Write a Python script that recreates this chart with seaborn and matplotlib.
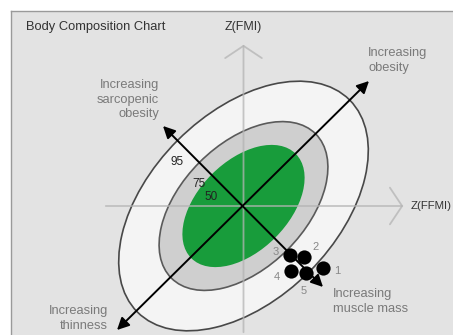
import numpy as np
import pandas as pd
import matplotlib
matplotlib.use("Agg")
import matplotlib.pyplot as plt
from matplotlib.patches import Ellipse
import seaborn as sns

# Reference ellipses (percentiles of the Z(FFMI)/Z(FMI) distribution), in Z units
percentiles = [95, 75, 50]
semi_major = [3.0, 2.04, 1.46]
semi_minor = [1.86, 1.24, 0.88]
ellipse_fill = ["#f4f4f4", "#cfcfcf", "#189c3b"]
ellipse_edge = ["#484848", "#5a5a5a", "#189c3b"]

# Five repeated measurements of one subject
point_ids = ["1", "2", "3", "4", "5"]
z_ffmi = [1.59, 1.21, 0.93, 0.95, 1.25]
z_fmi = [-1.24, -1.02, -0.98, -1.30, -1.34]
label_offsets = [(10, -2), (8, 7), (-10, 2), (-10, -4), (-2, -13)]

sns.set_theme(style="white")
plt.rcParams["font.family"] = ["Liberation Sans", "DejaVu Sans"]

fig = plt.figure(figsize=(4.53, 3.35), dpi=100)
fig.patch.set_facecolor("white")
ax = fig.add_axes([11 / 453, 0, 442 / 453, 324 / 335])
ax.set_facecolor("#e3e3e3")
ax.set_xlim(-4.65, 4.19)
ax.set_ylim(-2.58, 3.90)
ax.set_aspect("equal")
ax.set_xticks([])
ax.set_yticks([])
for side in ["right", "bottom"]:
    ax.spines[side].set_visible(False)
for side in ["top", "left"]:
    ax.spines[side].set_color("#9a9a9a")
    ax.spines[side].set_linewidth(1.0)

# Percentile ellipses, tilted 45 degrees
for p, a, b, fc, ec in zip(percentiles, semi_major, semi_minor, ellipse_fill, ellipse_edge):
    ax.add_patch(Ellipse((0, 0), 2 * a, 2 * b, angle=45, facecolor=fc,
                         edgecolor=ec, lw=1.2, zorder=1))
    d = b - 0.3
    lx, ly = -d / np.sqrt(2) - 0.23, d / np.sqrt(2) - 0.23
    ax.text(lx, ly, str(p), fontsize=8.5, color="#222222", ha="center",
            va="center", zorder=6)

# Z axes with open arrowheads
axis_color = "#b4b4b4"
ax.annotate("", xy=(0, 3.28), xytext=(0, -2.58),
            arrowprops=dict(arrowstyle="->,head_length=0.4,head_width=0.6",
                            mutation_scale=22, color=axis_color, lw=1.3, alpha=0.75),
            zorder=2)
ax.annotate("", xy=(3.25, 0), xytext=(-2.81, 0),
            arrowprops=dict(arrowstyle="->,head_length=0.4,head_width=0.6",
                            mutation_scale=22, color=axis_color, lw=1.3, alpha=0.75),
            zorder=2)
ax.text(0, 3.58, "Z(FMI)", fontsize=9, color="#333333", ha="center", va="center")
ax.text(3.35, 0, "Z(FFMI)", fontsize=8.2, color="#333333", ha="left", va="center")
ax.text(-4.35, 3.58, "Body Composition Chart", fontsize=9.3, color="#333333",
        ha="left", va="center")

# Diagonal trend arrows
ax.annotate("", xy=(2.51, 2.50), xytext=(-2.53, -2.48),
            arrowprops=dict(arrowstyle="<|-|>", mutation_scale=18, color="black",
                            lw=1.4, shrinkA=0, shrinkB=0), zorder=3)
ax.annotate("", xy=(-1.61, 1.60), xytext=(1.59, -1.62),
            arrowprops=dict(arrowstyle="<|-|>", mutation_scale=18, color="black",
                            lw=1.4, shrinkA=0, shrinkB=0), zorder=3)

gray_txt = dict(fontsize=9.3, color="#7a7a7a", linespacing=1.25)
ax.text(-1.69, 2.13, "Increasing\nsarcopenic\nobesity", ha="right", va="center",
        multialignment="right", **gray_txt)
ax.text(2.49, 2.91, "Increasing\nobesity", ha="left", va="center",
        multialignment="left", **gray_txt)
ax.text(-2.71, -2.25, "Increasing\nthinness", ha="right", va="center",
        multialignment="right", **gray_txt)
ax.text(1.79, -1.91, "Increasing\nmuscle mass", ha="left", va="center",
        multialignment="left", **gray_txt)

# Measurement points
df = pd.DataFrame({"id": point_ids, "z_ffmi": z_ffmi, "z_fmi": z_fmi})
sns.scatterplot(data=df, x="z_ffmi", y="z_fmi", ax=ax, color="black", s=105,
                edgecolor="black", linewidth=0, zorder=5, legend=False)
for pid, x, y, off in zip(point_ids, z_ffmi, z_fmi, label_offsets):
    ax.annotate(pid, (x, y), xytext=off, textcoords="offset points", fontsize=8,
                color="#888888", ha="center", va="center", zorder=6)
ax.set_xlabel("")
ax.set_ylabel("")

fig.savefig("out.png", dpi=100)
